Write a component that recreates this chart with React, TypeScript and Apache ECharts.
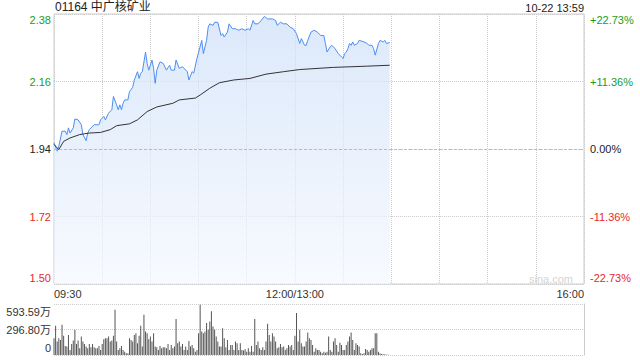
import React, { useEffect, useRef } from "react";
import * as echarts from "echarts";

// ---- data (minutes from 09:30, HK session 09:30-12:00 + 13:00-16:00 = 330 min) ----
const priceMinutes = [0,2,3,5,7,8,9,10,12,13,15,17,18,20,21,22,25,28,29,31,32,34,36,37,39,40,41,42,43,44,46,47,49,50,52,53,54,55,57,58,59,60,61,62,63,64,66,68,70,72,73,75,76,78,80,83,84,86,87,89,92,93,95,96,97,99,100,102,104,105,106,108,109,111,113,115,117,119,121,122,124,125,127,129,131,133,136,138,139,141,143,145,147,149,151,153,154,156,157,158,160,162,164,166,168,169,170,172,173,175,177,179,180,181,182,183,184,185,186,187,189,190,193,195,196,198,199,200,202,203,205,206,207,209];
const prices = [1.960,1.933,1.949,1.998,1.998,1.987,2.009,1.992,2.009,2.038,2.035,2.019,1.987,1.967,1.992,2.003,2.019,2.019,2.035,2.046,2.035,2.057,2.068,2.111,2.084,2.068,2.084,2.068,2.089,2.100,2.100,2.127,2.141,2.165,2.192,2.170,2.187,2.192,2.256,2.219,2.197,2.213,2.230,2.203,2.154,2.197,2.224,2.219,2.197,2.213,2.197,2.197,2.230,2.203,2.208,2.192,2.165,2.192,2.187,2.235,2.294,2.251,2.294,2.337,2.348,2.343,2.353,2.353,2.310,2.316,2.305,2.321,2.348,2.332,2.332,2.327,2.332,2.327,2.332,2.327,2.359,2.348,2.348,2.359,2.372,2.364,2.364,2.359,2.343,2.353,2.348,2.348,2.337,2.332,2.316,2.284,2.300,2.278,2.278,2.294,2.321,2.327,2.321,2.310,2.310,2.284,2.256,2.273,2.278,2.267,2.251,2.240,2.235,2.251,2.256,2.267,2.284,2.278,2.289,2.278,2.284,2.294,2.289,2.284,2.278,2.278,2.267,2.246,2.284,2.294,2.289,2.294,2.284,2.287];

const avgMinutes = [0,3,6,10,16,22,29,35,39,47,52,58,64,74,78,88,91,97,103,112,122,132,143,153,174,195,209];
const avgPrices = [1.955,1.938,1.965,1.976,1.987,1.992,1.994,2.003,2.016,2.022,2.035,2.062,2.077,2.089,2.100,2.106,2.116,2.138,2.156,2.165,2.170,2.184,2.192,2.199,2.206,2.210,2.213];

// volume per minute, in 万
const volumes = [195,340,156,195,176,351,223,105,98,234,59,129,168,293,129,168,78,215,156,129,98,78,129,90,129,90,78,78,105,59,129,184,195,195,215,156,168,223,527,156,59,78,105,59,39,20,20,195,176,156,234,254,137,223,340,98,469,273,254,184,215,156,254,98,90,59,105,78,90,90,78,129,59,117,78,98,418,137,156,98,129,59,98,59,164,98,117,78,39,59,254,586,273,254,273,371,293,391,508,332,293,215,156,98,98,312,195,90,176,59,117,117,59,156,137,59,137,59,51,66,39,78,39,105,39,418,117,156,78,59,90,59,156,363,234,156,254,215,156,78,90,129,90,98,59,78,117,98,117,59,223,488,156,293,137,98,98,156,262,195,176,117,39,78,59,59,39,20,39,27,39,215,59,39,156,195,117,39,144,117,59,59,117,156,215,262,176,59,137,117,98,20,12,20,70,59,39,59,78,78,254,254,39,20,12,8,8,4,4];

const priceLabels = ["1.50", "1.72", "1.94", "2.16", "2.38"];
const pctLabels = ["-22.73%", "-11.36%", "0.00%", "+11.36%", "+22.73%"];
const volLabels = ["0", "296.80万", "593.59万"];
const timeTickLabels: Record<number, string> = { 0: "09:30", 150: "12:00/13:00", 330: "16:00" };
const titleText = "01164 中广核矿业";
const timeText = "10-22 13:59";
const prevClose = 1.94;

const GREEN = "#1c9c1c";
const RED = "#e8282a";
const FONT = "'Liberation Sans', Arial, 'Noto Sans CJK SC', sans-serif";
const priceStyleKeys = ["rb", "r", "k", "g", "gt"];
const volStyleKeys = ["vb", "v", "vt"];

const richPrice = {
  gt: { color: GREEN, fontSize: 11, fontFamily: FONT, padding: [12, 0, 0, 0] },
  g: { color: GREEN, fontSize: 11, fontFamily: FONT },
  k: { color: "#222", fontSize: 11, fontFamily: FONT },
  r: { color: RED, fontSize: 11, fontFamily: FONT },
  rb: { color: RED, fontSize: 11, fontFamily: FONT, padding: [0, 0, 12, 0] },
};
const richVol = {
  vt: { color: "#333", fontSize: 11, fontFamily: FONT, padding: [15, 0, 0, 0] },
  v: { color: "#333", fontSize: 11, fontFamily: FONT },
  vb: { color: "#333", fontSize: 11, fontFamily: FONT, padding: [0, 0, 14, 0] },
};

export default function App() {
  const ref = useRef<HTMLDivElement>(null);
  useEffect(() => {
    if (!ref.current) return;
    const chart = echarts.init(ref.current, null, { renderer: "svg" });
    const option: any = {
      animation: false,
      backgroundColor: "#fff",
      textStyle: { fontFamily: FONT },
      grid: [
        { left: 54, top: 14, width: 530, height: 270, show: true, borderColor: "#ccc", borderWidth: 1, backgroundColor: "transparent" },
        { left: 54, top: 304, width: 530, height: 51 },
      ],
      xAxis: [
        {
          type: "value", gridIndex: 0, min: 0, max: 330, interval: 30,
          axisLine: { show: false }, axisTick: { show: false },
          axisLabel: {
            show: true, color: "#333", fontSize: 11, fontFamily: FONT, margin: 4,
            showMinLabel: true, showMaxLabel: true,
            alignMinLabel: "left", alignMaxLabel: "right",
            formatter: (v: number) => timeTickLabels[Math.round(v)] ?? "",
          },
          splitLine: { show: true, lineStyle: { color: "#ccc", type: "dotted", width: 1 } },
        },
        { type: "value", gridIndex: 1, min: 0, max: 330, show: false },
      ],
      yAxis: [
        { type: "value", gridIndex: 0, min: 1.5, max: 2.38, show: false },
        {
          type: "value", gridIndex: 0, position: "left", min: 0, max: 4, interval: 1,
          axisLine: { show: false }, axisTick: { show: false },
          axisLabel: {
            margin: 3, showMinLabel: true, showMaxLabel: true,
            formatter: (v: number) => { const i = Math.round(v); return `{${priceStyleKeys[i]}|${priceLabels[i]}}`; },
            rich: richPrice,
          },
          splitLine: { show: true, lineStyle: { color: "#ccc", type: "dotted", width: 1 } },
        },
        {
          type: "value", gridIndex: 0, position: "right", min: 0, max: 4, interval: 1,
          axisLine: { show: false }, axisTick: { show: false },
          axisLabel: {
            margin: 6, showMinLabel: true, showMaxLabel: true,
            formatter: (v: number) => { const i = Math.round(v); return `{${priceStyleKeys[i]}|${pctLabels[i]}}`; },
            rich: richPrice,
          },
          splitLine: { show: false },
        },
        { type: "value", gridIndex: 1, min: 0, max: 593.59, show: false },
        {
          type: "value", gridIndex: 1, position: "left", min: 0, max: 2, interval: 1,
          axisLine: { show: false }, axisTick: { show: false },
          axisLabel: {
            margin: 3, showMinLabel: true, showMaxLabel: true,
            formatter: (v: number) => { const i = Math.round(v); return `{${volStyleKeys[i]}|${volLabels[i]}}`; },
            rich: richVol,
          },
          splitLine: { show: true, lineStyle: { color: "#ccc", type: "dotted", width: 1 } },
        },
        {
          type: "value", gridIndex: 1, position: "right", min: 0, max: 2, interval: 1,
          axisLine: { show: true, lineStyle: { color: "#ccc", width: 1 } },
          axisTick: { show: false }, axisLabel: { show: false }, splitLine: { show: false },
        },
      ],
      series: [
        {
          type: "line", xAxisIndex: 0, yAxisIndex: 0, symbol: "none", silent: true,
          data: priceMinutes.map((m, i) => [m, prices[i]]),
          lineStyle: { color: "#4d8ef0", width: 1 },
          areaStyle: {
            color: new echarts.graphic.LinearGradient(0, 0, 0, 1, [
              { offset: 0, color: "#cddff9" },
              { offset: 1, color: "#f4f8fe" },
            ]),
          },
          z: 2,
        },
        {
          type: "line", xAxisIndex: 0, yAxisIndex: 0, symbol: "none", silent: true,
          data: avgMinutes.map((m, i) => [m, avgPrices[i]]),
          lineStyle: { color: "#333", width: 1 },
          markLine: {
            silent: true, symbol: "none", label: { show: false },
            lineStyle: { color: "#bbb", type: [3, 2], width: 1 },
            data: [{ yAxis: prevClose }],
          },
          z: 3,
        },
        {
          type: "bar", xAxisIndex: 1, yAxisIndex: 3, barWidth: 1, silent: true,
          data: volumes.map((v, i) => [i, v]),
          itemStyle: { color: "#555" },
        },
      ],
      graphic: [
        { type: "text", left: 55, top: 1, style: { text: titleText, fill: "#222", fontSize: 12, fontFamily: FONT } },
        { type: "text", right: 56, top: 2, style: { text: timeText, fill: "#222", fontSize: 11, fontFamily: FONT } },
        { type: "text", right: 67, top: 273, style: { text: "sina.com", fill: "#d4d4d4", fontSize: 11, fontFamily: FONT } },
      ],
    };
    chart.setOption(option);
    return () => chart.dispose();
  }, []);
  return <div ref={ref} style={{ position: "fixed", left: 0, top: 0, width: 640, height: 360 }} />;
}
